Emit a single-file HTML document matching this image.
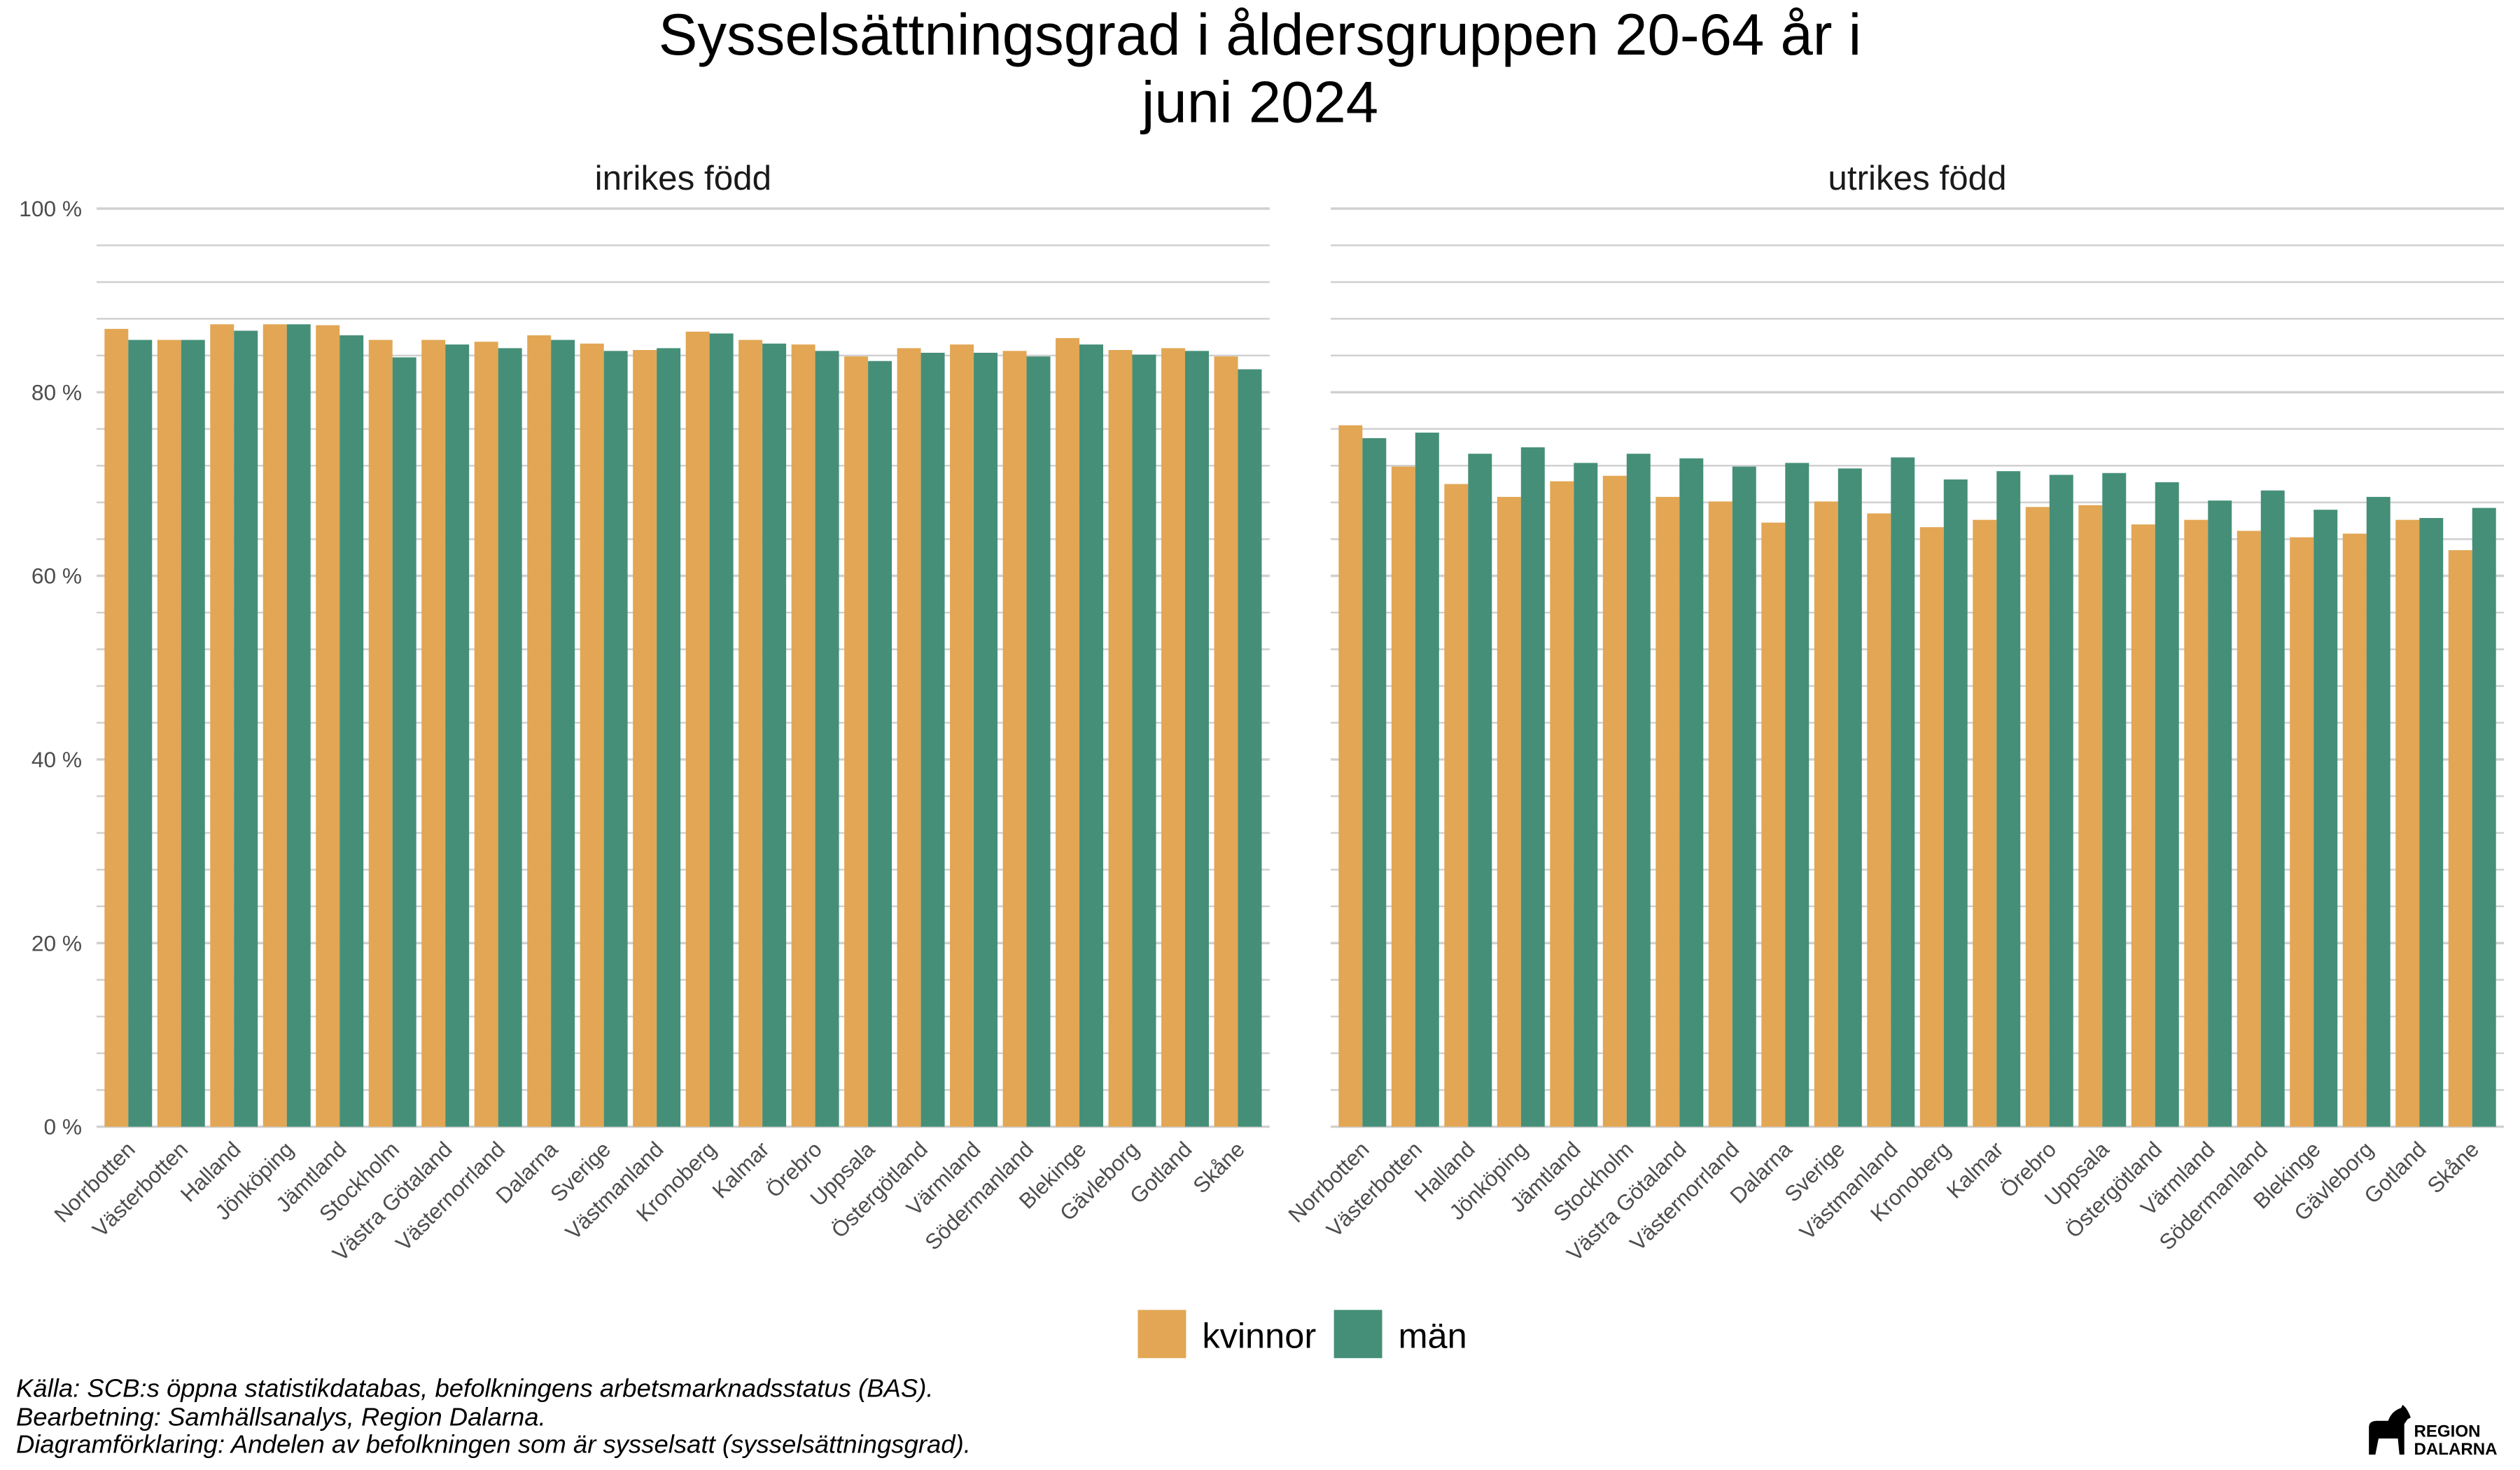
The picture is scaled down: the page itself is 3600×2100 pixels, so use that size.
<!DOCTYPE html>
<html><head><meta charset="utf-8"><style>
html,body{margin:0;padding:0;background:#fff;}
svg{display:block;font-family:"Liberation Sans",Arial,sans-serif;}
</style></head><body>
<svg id="chart" width="3600" height="2100" viewBox="0 0 1568 914.6" preserveAspectRatio="none" xmlns="http://www.w3.org/2000/svg">
<text x="784" y="34" text-anchor="middle" font-size="36.3" fill="#000">Sysselsättningsgrad i åldersgruppen 20-64 år i</text>
<text x="784" y="76" text-anchor="middle" font-size="36.3" fill="#000">juni 2024</text>
<g id="panels"></g>
<g>
<rect x="708" y="815" width="30" height="30" fill="#E2A654"/>
<text x="748" y="838.5" font-size="22" fill="#000">kvinnor</text>
<rect x="830" y="815" width="30" height="30" fill="#458F78"/>
<text x="870" y="838.5" font-size="22" fill="#000">män</text>
</g>
<g font-size="15.9" font-style="italic" fill="#000">
<text x="10" y="869">Källa: SCB:s öppna statistikdatabas, befolkningens arbetsmarknadsstatus (BAS).</text>
<text x="10" y="887">Bearbetning: Samhällsanalys, Region Dalarna.</text>
<text x="10" y="904">Diagramförklaring: Andelen av befolkningen som är sysselsatt (sysselsättningsgrad).</text>
</g>
<g>
<path d="M1474,905 L1474,888 Q1474,884 1479,884 L1486,884 Q1488,878 1494,876 L1495,874 L1497,876 Q1499,879 1500,882 L1498,883 L1496,886 L1496,905 L1493,905 L1492,895 L1480,895 L1478,905 Z" fill="#000"/>
<text x="1502" y="894" font-size="10.5" font-weight="bold" fill="#000">REGION</text>
<text x="1502" y="905" font-size="10.5" font-weight="bold" fill="#000">DALARNA</text>
</g>
</svg>
<script>
const categories = ["Norrbotten","Västerbotten","Halland","Jönköping","Jämtland","Stockholm","Västra Götaland","Västernorrland","Dalarna","Sverige","Västmanland","Kronoberg","Kalmar","Örebro","Uppsala","Östergötland","Värmland","Södermanland","Blekinge","Gävleborg","Gotland","Skåne"];
const inrikesKvinnor = [86.9,85.7,87.4,87.4,87.3,85.7,85.7,85.5,86.2,85.3,84.6,86.6,85.7,85.2,83.9,84.8,85.2,84.5,85.9,84.6,84.8,83.9];
const inrikesMan = [85.7,85.7,86.7,87.4,86.2,83.8,85.2,84.8,85.7,84.5,84.8,86.4,85.3,84.5,83.4,84.3,84.3,83.9,85.2,84.1,84.5,82.5];
const utrikesKvinnor = [76.4,71.9,70.0,68.6,70.3,70.9,68.6,68.1,65.8,68.1,66.8,65.3,66.1,67.5,67.7,65.6,66.1,64.9,64.2,64.6,66.1,62.8];
const utrikesMan = [75.0,75.6,73.3,74.0,72.3,73.3,72.8,71.9,72.3,71.7,72.9,70.5,71.4,71.0,71.2,70.2,68.2,69.3,67.2,68.6,66.3,67.4];
const yTicks = [0,20,40,60,80,100];
const yTickLabels = ["0 %","20 %","40 %","60 %","80 %","100 %"];
const panelTitles = ["inrikes född","utrikes född"];

const NS="http://www.w3.org/2000/svg";
const root=document.getElementById('panels');
const y0=701, y100=129.8;
function yScale(v){return y0-(y0-y100)*v/100;}
function mk(tag,attrs,parent){const e=document.createElementNS(NS,tag);for(const k in attrs)e.setAttribute(k,attrs[k]);parent.appendChild(e);return e;}
const panels=[{x0:60.1,x1:790,k:inrikesKvinnor,m:inrikesMan,name:'inrikes'},{x0:828,x1:1558,k:utrikesKvinnor,m:utrikesMan,name:'utrikes'}];
panels.forEach((p,pi)=>{
  const g=mk('g',{},root);
  
  
  const unit=(p.x1-p.x0)/(categories.length+0.2);
  const xc=i=>p.x0+(i+0.6)*unit;
  for(let v=0;v<=100;v+=4){
    const major=v%20===0;
    const l=mk('line',{x1:p.x0,x2:p.x1,y1:yScale(v),y2:yScale(v),stroke:'#d0d0d0','stroke-width':major?1.5:1.1},g);
    
    
  }
  const t=mk('text',{x:(p.x0+p.x1)/2,y:118,'text-anchor':'middle','font-size':21.5,fill:'#1a1a1a'},g);
  t.textContent=panelTitles[pi];
  
  
  if(pi===0){
    yTicks.forEach((v,j)=>{
      const tt=mk('text',{x:51,y:yScale(v)+4.8,'text-anchor':'end','font-size':13.8,fill:'#4d4d4d'},g);
      tt.textContent=yTickLabels[j];
      
      
    });
  }
  const bw=0.45*unit;
  categories.forEach((c,i)=>{
    const cx=xc(i);
    const bk=mk('rect',{x:cx-bw,y:yScale(p.k[i]),width:bw,height:y0-yScale(p.k[i]),fill:'#E2A654'},g);
    
    
    const bm=mk('rect',{x:cx,y:yScale(p.m[i]),width:bw,height:y0-yScale(p.m[i]),fill:'#458F78'},g);
    
    
    const lx=cx+5, ly=716;
    const lb=mk('text',{x:lx,y:ly,'text-anchor':'end','font-size':13.6,fill:'#4d4d4d',transform:`rotate(-45 ${lx} ${ly})`},g);
    lb.textContent=c;
    
    
  });
});
</script>
</body></html>
